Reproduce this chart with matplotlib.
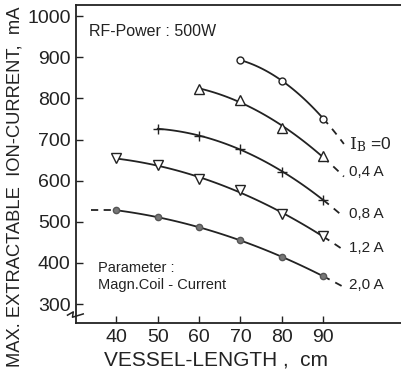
import numpy as np
import matplotlib.pyplot as plt

plt.rcParams['font.family'] = ['Liberation Sans Narrow', 'Liberation Sans', 'DejaVu Sans']

# vessel length (cm) and max. extractable ion current (mA) per coil current
x_ib0 = [70, 80, 90]
y_ib0 = [893, 843, 751]
x_04 = [60, 70, 80, 90]
y_04 = [822, 797, 727, 659]
x_08 = [50, 60, 70, 80, 90]
y_08 = [726, 709, 678, 620, 554]
x_12 = [40, 50, 60, 70, 80, 90]
y_12 = [654, 637, 604, 578, 518, 465]
x_20 = [40, 50, 60, 70, 80, 90]
y_20 = [528, 511, 487, 455, 414, 368]

labels = ['$\\mathrm{I}_\\mathrm{B}$ =0', '0,4 A', '0,8 A', '1,2 A', '2,0 A']
xticks = [40, 50, 60, 70, 80, 90]
yticks = [300, 400, 500, 600, 700, 800, 900, 1000]

fig = plt.figure(figsize=(4.01, 3.74), dpi=100)
ax = fig.add_axes([0.19, 0.1364, 0.81, 0.8502])
ax.set_xlim(30.3, 108.8)
ax.set_ylim(254, 1027)

lc = '#222222'
series = [
    (x_ib0, y_ib0, dict(marker='o', mfc='white', ms=5)),
    (x_04, y_04, dict(marker='^', mfc='white', ms=6.5)),
    (x_08, y_08, dict(marker='+', ms=7, mew=1.0)),
    (x_12, y_12, dict(marker='v', mfc='white', ms=6.5)),
    (x_20, y_20, dict(marker='o', mfc='#777777', mec='#555555', ms=4.5)),
]
label_y = [688, 622, 520, 437, 346]

for (xs, ys, mk), lab, ly in zip(series, labels, label_y):
    c = np.polyfit(xs, ys, 2)
    xx = np.linspace(xs[0], xs[-1], 100)
    ax.plot(xx, np.polyval(c, xx), color=lc, lw=1.3)
    xd = np.linspace(xs[-1], 95, 20)
    ax.plot(xd, np.polyval(c, xd), color=lc, lw=1.3, ls=(0, (4, 3.5)))
    ax.plot(xs, ys, ls='none', color=lc, mec=mk.pop('mec', lc), **mk)
    fs = 12.5 if lab.startswith('$') else 11
    ax.text(96.3, ly, lab, fontsize=fs, va='center', ha='left', color=lc,
            math_fontfamily='dejavuserif')

# dashed lead-in of the 2,0 A curve
ax.plot([34, x_20[0]], [y_20[0], y_20[0]], color=lc, lw=1.3, ls=(0, (4, 3)))

ax.text(33.5, 963, 'RF-Power : 500W', fontsize=11.5, color=lc, va='center')
ax.text(35.5, 388, 'Parameter :', fontsize=10.5, color=lc, va='center')
ax.text(35.5, 347, 'Magn.Coil - Current', fontsize=10.5, color=lc, va='center')

ax.set_xticks(xticks)
ax.set_yticks(yticks)
ax.tick_params(direction='in', length=5, width=1, labelsize=14, colors=lc, pad=4)
ax.spines['right'].set_visible(False)
for s in ['left', 'top', 'bottom']:
    ax.spines[s].set_linewidth(1.3)
    ax.spines[s].set_color(lc)

# axis break mark on the value axis
zx = [28.2, 29.6, 29.4, 32.0]
zy = [273, 281, 268, 276]
ax.plot(zx, zy, color=lc, lw=1.1, clip_on=False)

ax.set_xlabel('VESSEL-LENGTH ,  cm', fontsize=15, color=lc, labelpad=4)
ax.xaxis.set_label_coords(0.43, -0.085)
fig.text(0.038, 0.5, 'MAX. EXTRACTABLE  ION-CURRENT,  mA', fontsize=13.2,
         color=lc, rotation=90, ha='center', va='center')

fig.savefig('out.png', dpi=100)
